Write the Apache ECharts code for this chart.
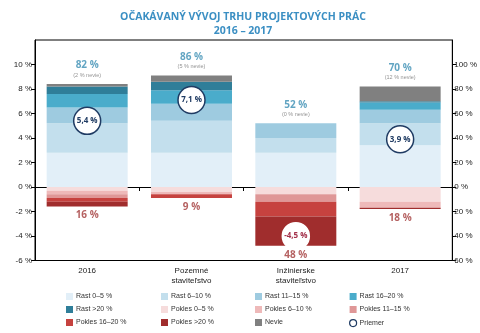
<!DOCTYPE html>
<html><head><meta charset="utf-8">
<script src="https://cdn.jsdelivr.net/npm/echarts@6/dist/echarts.min.js"></script>
<style>html,body{margin:0;padding:0;background:#fff}#c{width:480px;height:333px}</style>
</head><body><div id="c"></div>
<script>
const categories = ['2016', 'Pozemné\nstaviteľstvo', 'Inžinierske\nstaviteľstvo', '2017'];
const rast0_5   = [28, 28, 28, 34];
const rast6_10  = [24, 26, 12, 18];
const rast11_15 = [13, 14, 12, 11];
const rast16_20 = [11, 11, 0, 6];
const rastOver20 = [6, 7, 0, 1];
const nevie     = [2, 5, 0, 12];
const pokles0_5   = [3, 4, 6, 12];
const pokles6_10  = [3, 2, 0, 5];
const pokles11_15 = [3, 0, 6, 0];
const pokles16_20 = [3, 3, 12, 0];
const poklesOver20 = [4, 0, 24, 1];
const rastTotal   = [82, 86, 52, 70];
const poklesTotal = [16, 9, 48, 18];
const priemer     = [5.4, 7.1, -4.5, 3.9];
const leftTicks  = [-6, -4, -2, 0, 2, 4, 6, 8, 10];
const rightTicks = [-60, -40, -20, 0, 20, 40, 60, 80, 100];

const F = '"Liberation Sans", Arial, sans-serif';
const FB = '"Open Sans", "Liberation Sans", sans-serif';
const colors = {
  'Rast 0–5 %': '#e2eff8', 'Rast 6–10 %': '#c3dfed', 'Rast 11–15 %': '#9ecbe0',
  'Rast 16–20 %': '#4aaccb', 'Rast >20 %': '#2f7e99', 'Nevie': '#808080',
  'Pokles 0–5 %': '#f6dcdc', 'Pokles 6–10 %': '#eeb9b9', 'Pokles 11–15 %': '#df9797',
  'Pokles 16–20 %': '#c6423f', 'Pokles >20 %': '#a02d2d'
};
const stacks = [
  ['Rast 0–5 %', rast0_5, 1], ['Rast 6–10 %', rast6_10, 1], ['Rast 11–15 %', rast11_15, 1],
  ['Rast 16–20 %', rast16_20, 1], ['Rast >20 %', rastOver20, 1], ['Nevie', nevie, 1],
  ['Pokles 0–5 %', pokles0_5, -1], ['Pokles 6–10 %', pokles6_10, -1], ['Pokles 11–15 %', pokles11_15, -1],
  ['Pokles 16–20 %', pokles16_20, -1], ['Pokles >20 %', poklesOver20, -1]
];
const fmt = v => String(v).replace('.', ',') + ' %';

const series = stacks.map(([name, arr, sign]) => ({
  name, type: 'bar', stack: 'a', xAxisIndex: 0, yAxisIndex: 1, barWidth: 81,
  data: arr.map(v => v * sign), itemStyle: { color: colors[name] }, silent: true
}));
series.push({
  name: 'topLabels', type: 'scatter', xAxisIndex: 0, yAxisIndex: 1, symbolSize: 0.1,
  itemStyle: { color: 'rgba(0,0,0,0)' }, silent: true,
  data: rastTotal.map((v, i) => v + nevie[i]),
  label: { show: true, position: 'top', distance: 5,
    formatter: p => '{a|' + rastTotal[p.dataIndex] + ' %}\n{b|(' + nevie[p.dataIndex] + ' % nevie)}',
    rich: { a: { fontFamily: FB, fontWeight: 'bold', fontSize: 10, color: '#3a8db3', lineHeight: 11, align: 'center' },
            b: { fontFamily: F, fontSize: 5.5, color: '#777', lineHeight: 8, align: 'center' } } }
});
series.push({
  name: 'bottomLabels', type: 'scatter', xAxisIndex: 0, yAxisIndex: 1, symbolSize: 0.1,
  itemStyle: { color: 'rgba(0,0,0,0)' }, silent: true,
  data: poklesTotal.map(v => -v),
  label: { show: true, position: 'bottom', distance: 4, fontFamily: FB, fontWeight: 'bold', fontSize: 10, color: '#a23a3a',
    formatter: p => poklesTotal[p.dataIndex] + ' %' }
});
series.push({
  name: 'Priemer', type: 'scatter', xAxisIndex: 0, yAxisIndex: 0, symbol: 'circle', symbolSize: 27, z: 5,
  itemStyle: { color: '#fff', borderColor: '#1f3b63', borderWidth: 1.5, opacity: 1 },
  label: { show: true, position: 'inside', fontFamily: FB, fontWeight: 'bold', fontSize: 8, color: '#1f3b63',
    formatter: p => fmt(p.value) },
  data: priemer.map(v => v < 0
    ? { value: v, symbolOffset: [0, -6], itemStyle: { borderColor: '#fff' }, label: { color: '#a3304a' } }
    : v)
});

const legendCols = [
  ['Rast 0–5 %', 'Rast >20 %', 'Pokles 16–20 %'],
  ['Rast 6–10 %', 'Pokles 0–5 %', 'Pokles >20 %'],
  ['Rast 11–15 %', 'Pokles 6–10 %', 'Nevie'],
  ['Rast 16–20 %', 'Pokles 11–15 %', 'Priemer']
];
const legendLeft = [66, 161, 255, 349];
const legend = legendCols.map((col, i) => ({
  orient: 'vertical', left: legendLeft[i], top: 293, height: 60, padding: 0,
  itemWidth: 7, itemHeight: 7, itemGap: 6,
  selectedMode: false,
  textStyle: { fontFamily: F, fontSize: 7, color: '#333', lineHeight: 7, padding: [0, 0, 0, -2] },
  data: col.map(n => n === 'Priemer'
    ? { name: n, icon: 'circle', itemStyle: { color: '#fff', borderColor: '#1f3b63', borderWidth: 1.2 } }
    : { name: n, icon: 'rect' })
}));

const chart = echarts.init(document.getElementById('c'), null, { renderer: 'canvas' });
chart.setOption({
  animation: false,
  title: { text: 'OČAKÁVANÝ VÝVOJ TRHU PROJEKTOVÝCH PRÁC\n2016 – 2017', left: 238, top: 5, textAlign: 'center',
    textStyle: { fontFamily: FB, fontWeight: 'bold', fontSize: 10.5, color: '#3b8fc3', lineHeight: 14 } },
  legend,
  grid: { left: 35, right: 27, top: 40, bottom: 72.5, show: true, borderColor: '#000', borderWidth: 1, containLabel: false },
  xAxis: [
    { type: 'category', data: categories, position: 'bottom', axisLine: { onZero: false, lineStyle: { color: '#000' } },
      axisTick: { show: false }, axisLabel: { fontFamily: F, fontSize: 8, color: '#222', margin: 5, lineHeight: 10 } },
    { type: 'category', data: categories, position: 'bottom', axisLine: { onZero: true, onZeroAxisIndex: 0, lineStyle: { color: '#000' } },
      axisTick: { show: true, length: 4, lineStyle: { color: '#000' } }, axisLabel: { show: false } }
  ],
  yAxis: [
    { type: 'value', min: -6, max: 12, interval: 2, position: 'left', splitLine: { show: false },
      axisLine: { show: true, lineStyle: { color: '#000' } },
      axisTick: { show: true, length: 4, lineStyle: { color: '#000' }, customValues: leftTicks },
      axisLabel: { fontFamily: F, fontSize: 8, color: '#222', margin: 3, customValues: leftTicks, formatter: v => v + ' %' } },
    { type: 'value', min: -60, max: 120, interval: 20, position: 'right', splitLine: { show: false },
      axisLine: { show: true, lineStyle: { color: '#000' } },
      axisTick: { show: true, length: 4, lineStyle: { color: '#000' }, customValues: rightTicks },
      axisLabel: { fontFamily: F, fontSize: 8, color: '#222', margin: 2, customValues: rightTicks, formatter: v => Math.abs(v) + ' %' } }
  ],
  series
});
</script></body></html>
